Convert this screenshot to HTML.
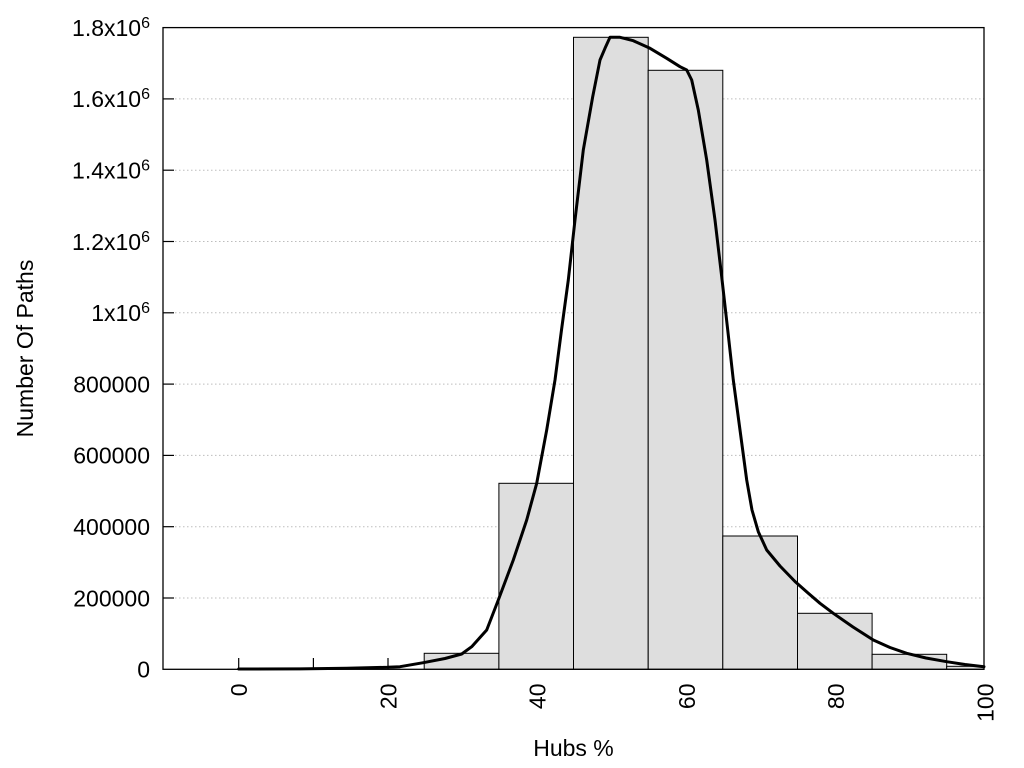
<!DOCTYPE html>
<html>
<head>
<meta charset="utf-8">
<style>
  html, body { margin: 0; padding: 0; background: #ffffff; }
  svg { display: block; }
  text { font-family: "Liberation Sans", Arial, sans-serif; fill: #000; }
</style>
</head>
<body>
<svg width="1024" height="768" viewBox="0 0 1024 768" xmlns="http://www.w3.org/2000/svg">
  <rect x="0" y="0" width="1024" height="768" fill="#ffffff"/>

  <!-- grid lines -->
  <g stroke="#bdbdbd" stroke-width="1" stroke-dasharray="1.5,2.5">
    <line x1="175" y1="598" x2="984" y2="598"/>
    <line x1="175" y1="526.7" x2="984" y2="526.7"/>
    <line x1="175" y1="455.4" x2="984" y2="455.4"/>
    <line x1="175" y1="384.1" x2="984" y2="384.1"/>
    <line x1="175" y1="312.8" x2="984" y2="312.8"/>
    <line x1="175" y1="241.5" x2="984" y2="241.5"/>
    <line x1="175" y1="170.2" x2="984" y2="170.2"/>
    <line x1="175" y1="98.9" x2="984" y2="98.9"/>
  </g>

  <!-- x ticks -->
  <g stroke="#000" stroke-width="1.2">
    <line x1="238.7" y1="669.3" x2="238.7" y2="658"/>
    <line x1="313.4" y1="669.3" x2="313.4" y2="658"/>
    <line x1="388" y1="669.3" x2="388" y2="658"/>
  </g>

  <!-- bars -->
  <g fill="#dedede" stroke="#000" stroke-width="1">
    <rect x="424.2" y="653.3" width="74.7" height="16"/>
    <rect x="498.9" y="483.3" width="74.6" height="186"/>
    <rect x="573.5" y="37.3" width="74.7" height="632"/>
    <rect x="648.2" y="70.3" width="74.6" height="599"/>
    <rect x="722.8" y="536" width="74.7" height="133.3"/>
    <rect x="797.5" y="613.3" width="74.6" height="56"/>
    <rect x="872.1" y="654.3" width="74.6" height="15"/>
    <rect x="946.7" y="666.3" width="37.3" height="3"/>
  </g>

  <!-- curve -->
  <polyline fill="none" stroke="#000" stroke-width="3" stroke-linejoin="round" stroke-linecap="round"
    points="238.7,669 300,668.9 346.7,668.3 387.3,667.3 400,666.7 423.3,662.7 445,658.5 461.7,654 471.7,646.7 486.7,630 498.3,600 513.3,560 526.7,520 536.7,483.3 546.7,430 555,380 561.5,330 568.3,280 575,220 583.3,150 592.7,96.7 600,60 605,48.3 610,37.3 620,37.3 633.3,40.7 650,48.3 666.7,58.3 680,66.7 686.7,70 691.7,80 698.3,110 706.7,160 715,220 721.7,276.7 727.5,328 733.3,380 740,430 746.7,480 752,510 758.3,531.7 766.7,550 780,566 795,581.5 808,593 820,603.3 833.3,613.3 853,627 873.3,640 890,647.5 906.7,653.3 926,658 946.7,661.7 965,664.5 984,666.7"/>

  <!-- y ticks -->
  <g stroke="#000" stroke-width="1.2">
    <line x1="163" y1="598" x2="174" y2="598"/>
    <line x1="163" y1="526.7" x2="174" y2="526.7"/>
    <line x1="163" y1="455.4" x2="174" y2="455.4"/>
    <line x1="163" y1="384.1" x2="174" y2="384.1"/>
    <line x1="163" y1="312.8" x2="174" y2="312.8"/>
    <line x1="163" y1="241.5" x2="174" y2="241.5"/>
    <line x1="163" y1="170.2" x2="174" y2="170.2"/>
    <line x1="163" y1="98.9" x2="174" y2="98.9"/>
  </g>

  <!-- plot border -->
  <rect x="163" y="27.6" width="821" height="641.7" fill="none" stroke="#000" stroke-width="1.3"/>

  <!-- y tick labels -->
  <g font-size="23" text-anchor="end">
    <text x="150" y="677.5">0</text>
    <text x="150" y="606.3">200000</text>
    <text x="150" y="535">400000</text>
    <text x="150" y="463.7">600000</text>
    <text x="150" y="392.4">800000</text>
    <text x="150" y="321.1">1x10<tspan font-size="16" dy="-8">6</tspan></text>
    <text x="150" y="249.8">1.2x10<tspan font-size="16" dy="-8">6</tspan></text>
    <text x="150" y="178.5">1.4x10<tspan font-size="16" dy="-8">6</tspan></text>
    <text x="150" y="107.2">1.6x10<tspan font-size="16" dy="-8">6</tspan></text>
    <text x="150" y="35.9">1.8x10<tspan font-size="16" dy="-8">6</tspan></text>
  </g>

  <!-- x tick labels (rotated) -->
  <g font-size="23" text-anchor="end">
    <text transform="translate(247,683.5) rotate(-90)">0</text>
    <text transform="translate(396.3,683.5) rotate(-90)">20</text>
    <text transform="translate(545.6,683.5) rotate(-90)">40</text>
    <text transform="translate(694.8,683.5) rotate(-90)">60</text>
    <text transform="translate(844.1,683.5) rotate(-90)">80</text>
    <text transform="translate(993.3,683.5) rotate(-90)">100</text>
  </g>

  <!-- axis titles -->
  <text x="573.5" y="756" font-size="23" text-anchor="middle">Hubs %</text>
  <text transform="translate(33,348.5) rotate(-90)" font-size="23" text-anchor="middle">Number Of Paths</text>
</svg>
</body>
</html>
